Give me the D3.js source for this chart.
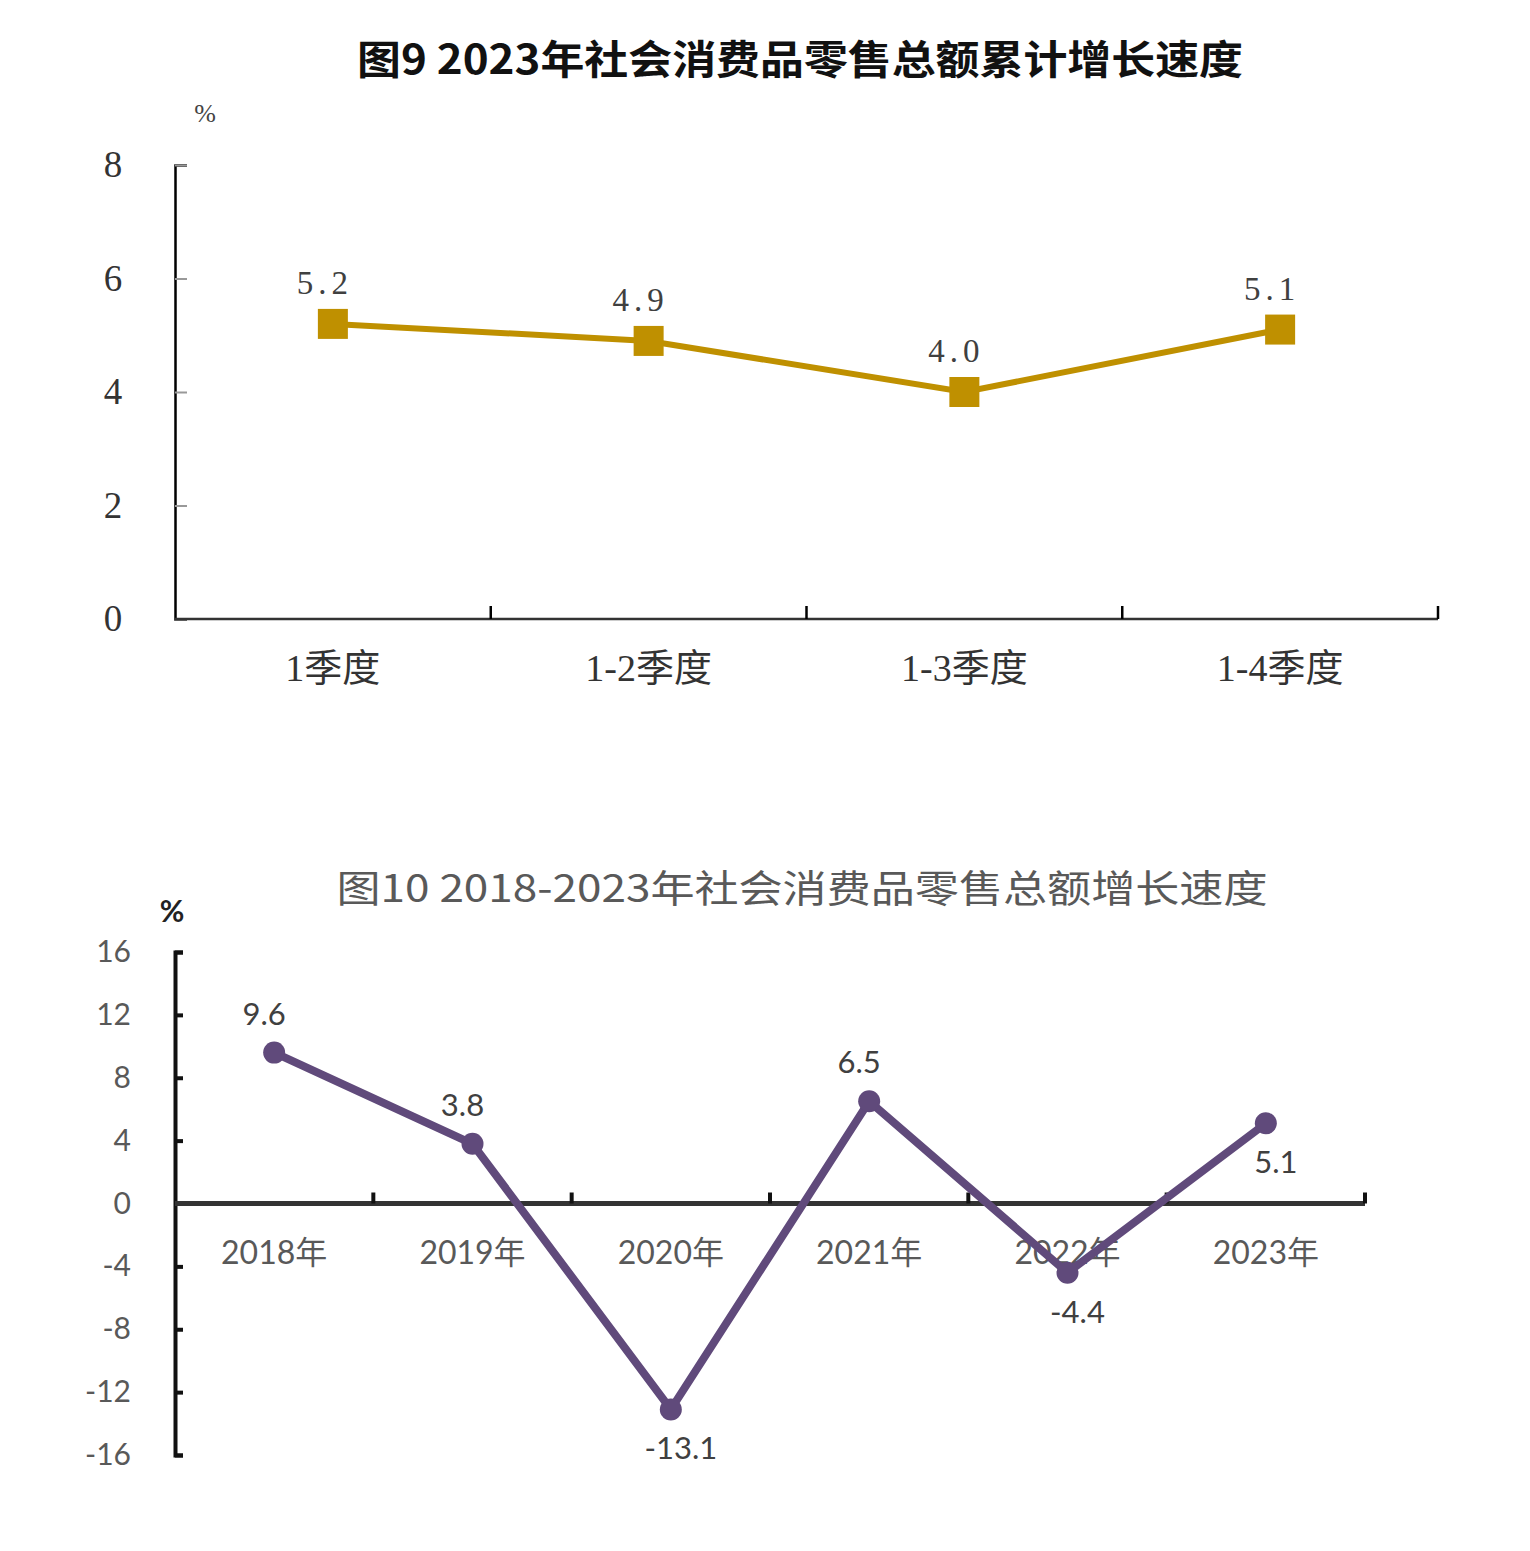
<!DOCTYPE html>
<html lang="zh">
<head>
  <meta charset="UTF-8">
  <title>社会消费品零售总额增长速度</title>
  <style>
    body { margin: 0; background: #fff; }
    svg { display: block; }
  </style>
  <script src="https://d3js.org/d3.v7.min.js"></script>
</head>
<body>
  <div id="chart"></div>

  <script>
    // chart 9: cumulative growth by quarter
    const quarters = ["1季度", "1-2季度", "1-3季度", "1-4季度"];
    const quarterValues = [5.2, 4.9, 4.0, 5.1];
    const quarterTicks = [0, 2, 4, 6, 8];

    // chart 10: yearly growth
    const years = ["2018年", "2019年", "2020年", "2021年", "2022年", "2023年"];
    const yearValues = [9.6, 3.8, -13.1, 6.5, -4.4, 5.1];
    const yearLabelSide = ["above", "above", "below", "above", "below", "below"];
    const yearTicks = [-16, -12, -8, -4, 0, 4, 8, 12, 16];

    const width = 1530, height = 1551;
    const serif = "'Liberation Serif', 'DejaVu Serif', 'Noto Sans CJK SC', serif";
    const sans = "Lato, 'Open Sans', 'Noto Sans CJK SC', sans-serif";
    const cjk = "'Noto Sans CJK SC', sans-serif";

    // plain hyphen for negatives, like the original
    const locale = d3.formatLocale({ decimal: ".", thousands: ",", grouping: [3], currency: ["", ""], minus: "-" });
    const fmtInt = locale.format("d");
    const fmt1 = locale.format(".1f");

    const svg = d3.select("#chart").append("svg")
        .attr("width", width)
        .attr("height", height);

    // ---------- chart 9 ----------
    const g1 = svg.append("g");

    g1.append("text")
        .attr("x", 800).attr("y", 74)
        .attr("text-anchor", "middle")
        .attr("textLength", 886)
        .attr("lengthAdjust", "spacingAndGlyphs")
        .style("font", `bold 40px ${cjk}`)
        .attr("fill", "#111")
        .text("图9 2023年社会消费品零售总额累计增长速度");

    g1.append("text")
        .attr("x", 205).attr("y", 122)
        .attr("text-anchor", "middle")
        .style("font", `26px ${serif}`)
        .attr("fill", "#444")
        .text("%");

    const x1 = d3.scaleBand().domain(quarters).range([175, 1438]);
    const y1 = d3.scaleLinear().domain([0, 8]).range([619, 165]);

    // y axis
    const yAxis1 = g1.append("g")
        .attr("transform", "translate(175,0)")
        .call(d3.axisLeft(y1).tickValues(quarterTicks).tickSize(-12).tickPadding(62).tickFormat(fmtInt));
    yAxis1.select(".domain").attr("stroke", "#000").attr("stroke-width", 2.5);
    yAxis1.selectAll(".tick line").attr("stroke", "#999").attr("stroke-width", 2);
    yAxis1.selectAll(".tick text")
        .attr("text-anchor", "middle")
        .attr("fill", "#333")
        .style("font", `37px ${serif}`);

    // x axis with ticks between categories
    const xAxis1 = g1.append("g").attr("transform", `translate(0,${y1(0)})`);
    xAxis1.append("line")
        .attr("x1", x1.range()[0]).attr("x2", x1.range()[1])
        .attr("stroke", "#333").attr("stroke-width", 2.5);
    xAxis1.selectAll("line.tk")
      .data(quarters)
      .join("line")
        .attr("class", "tk")
        .attr("x1", d => x1(d) + x1.bandwidth()).attr("x2", d => x1(d) + x1.bandwidth())
        .attr("y1", 0).attr("y2", -13)
        .attr("stroke", "#000").attr("stroke-width", 2.5);
    xAxis1.selectAll("text")
      .data(quarters)
      .join("text")
        .attr("x", d => x1(d) + x1.bandwidth() / 2)
        .attr("y", 62)
        .attr("text-anchor", "middle")
        .attr("fill", "#333")
        .style("font", `38px ${serif}`)
        .text(d => d);

    const qData = quarters.map((q, i) => ({ k: q, v: quarterValues[i] }));
    const cx1 = d => x1(d.k) + x1.bandwidth() / 2;

    g1.append("path")
        .datum(qData)
        .attr("fill", "none")
        .attr("stroke", "#BF9000")
        .attr("stroke-width", 6)
        .attr("d", d3.line().x(cx1).y(d => y1(d.v)));

    g1.selectAll("rect.mk")
      .data(qData)
      .join("rect")
        .attr("class", "mk")
        .attr("x", d => cx1(d) - 15).attr("y", d => y1(d.v) - 15)
        .attr("width", 30).attr("height", 30)
        .attr("fill", "#BF9000");

    g1.selectAll("text.lbl")
      .data(qData)
      .join("text")
        .attr("class", "lbl")
        .attr("x", d => cx1(d) - 8)
        .attr("y", d => y1(d.v) - 30)
        .attr("text-anchor", "middle")
        .attr("fill", "#404040")
        .style("font", `33px ${serif}`)
        .style("letter-spacing", "5px")
        .text(d => fmt1(d.v));

    // ---------- chart 10 ----------
    const g2 = svg.append("g");

    g2.append("text")
        .attr("x", 802).attr("y", 902)
        .attr("text-anchor", "middle")
        .attr("textLength", 931)
        .attr("lengthAdjust", "spacingAndGlyphs")
        .style("font", `38px ${cjk}`)
        .attr("fill", "#595959")
        .text("图10 2018-2023年社会消费品零售总额增长速度");

    g2.append("text")
        .attr("x", 172).attr("y", 922)
        .attr("text-anchor", "middle")
        .style("font", `bold 30px ${sans}`)
        .attr("fill", "#222")
        .text("%");

    const x2 = d3.scaleBand().domain(years).range([175, 1365]);
    const y2 = d3.scaleLinear().domain([-16, 16]).range([1455, 952]);

    const yAxis2 = g2.append("g")
        .attr("transform", "translate(175,0)")
        .call(d3.axisLeft(y2).tickValues(yearTicks).tickSize(-8).tickPadding(44).tickFormat(fmtInt));
    yAxis2.select(".domain").attr("stroke", "#111").attr("stroke-width", 4);
    yAxis2.selectAll(".tick line").attr("stroke", "#111").attr("stroke-width", 4);
    yAxis2.selectAll(".tick text")
        .attr("fill", "#595959")
        .style("font", `30px ${sans}`);

    const xAxis2 = g2.append("g").attr("transform", `translate(0,${y2(0)})`);
    xAxis2.append("line")
        .attr("x1", x2.range()[0]).attr("x2", x2.range()[1])
        .attr("stroke", "#333").attr("stroke-width", 5);
    xAxis2.selectAll("line.tk")
      .data(years)
      .join("line")
        .attr("class", "tk")
        .attr("x1", d => x2(d) + x2.bandwidth()).attr("x2", d => x2(d) + x2.bandwidth())
        .attr("y1", 0).attr("y2", -11)
        .attr("stroke", "#111").attr("stroke-width", 4);
    xAxis2.selectAll("text")
      .data(years)
      .join("text")
        .attr("x", d => x2(d) + x2.bandwidth() / 2)
        .attr("y", 60)
        .attr("text-anchor", "middle")
        .attr("fill", "#595959")
        .style("font", `32px ${sans}`)
        .text(d => d);

    const yData = years.map((yr, i) => ({ k: yr, v: yearValues[i], side: yearLabelSide[i] }));
    const cx2 = d => x2(d.k) + x2.bandwidth() / 2;

    g2.append("path")
        .datum(yData)
        .attr("fill", "none")
        .attr("stroke", "#604A7B")
        .attr("stroke-width", 8)
        .attr("stroke-linejoin", "round")
        .attr("d", d3.line().x(cx2).y(d => y2(d.v)));

    g2.selectAll("circle")
      .data(yData)
      .join("circle")
        .attr("cx", cx2).attr("cy", d => y2(d.v))
        .attr("r", 11)
        .attr("fill", "#604A7B");

    g2.selectAll("text.lbl")
      .data(yData)
      .join("text")
        .attr("class", "lbl")
        .attr("x", d => cx2(d) + (d.side === "above" ? -10 : 10))
        .attr("y", d => y2(d.v) + (d.side === "above" ? -28 : 50))
        .attr("text-anchor", "middle")
        .attr("fill", "#404040")
        .style("font", `31px ${sans}`)
        .text(d => fmt1(d.v));
  </script>
</body>
</html>
